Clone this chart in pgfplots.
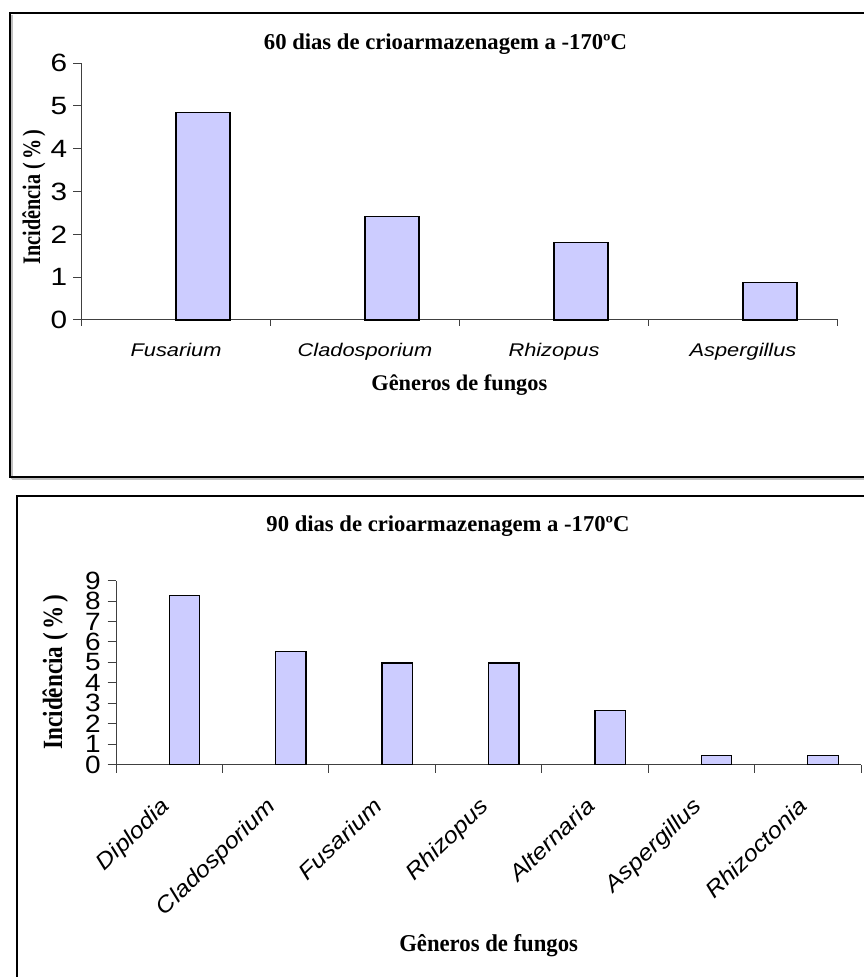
\documentclass[border=0pt]{standalone}
\usepackage{pgfplots}
\usepackage{pgfplotstable}
\pgfplotsset{compat=1.18}
\usepackage{fontspec}
\setmainfont{Liberation Serif}
\newfontfamily\arialA[FakeStretch=1.19]{Liberation Sans}
\newfontfamily\arialB[FakeStretch=1.12]{Liberation Sans}
\newfontfamily\timesC[FakeStretch=0.94]{Liberation Serif}
\definecolor{barfill}{HTML}{CCCCFF}
\definecolor{axgray}{HTML}{404040}

\pgfplotstableread{
x y
0 4.85
1 2.42
2 1.81
3 0.88
}\dataA
\pgfplotstableread{
x y
0 8.27
1 5.52
2 4.98
3 4.98
4 2.66
5 0.45
6 0.45
}\dataB

\begin{document}
\begin{tikzpicture}
\clip (0,0) rectangle (518.4pt,586.2pt);
\fill[white] (0,0) rectangle (518.4pt,586.2pt);
% frame 1
\draw[gray!50, line width=1.2pt] (7pt,299pt) -- (530pt,299pt);
\draw[gray!50, line width=1.2pt] (7pt,299pt) -- (7pt,577pt);
\draw[black, line width=1.2pt] (6pt,300pt) rectangle (530pt,578.4pt);
% frame 2
\draw[black, line width=0.9pt] (10.2pt,-10pt) rectangle (530pt,288.6pt);

\begin{axis}[
  at={(48.9pt,394.2pt)}, anchor=south west,
  width=453.6pt, height=154.2pt, scale only axis,
  xmin=-0.5, xmax=3.5, ymin=0, ymax=6,
  axis lines*=left, axis line style={axgray, line width=0.6pt},
  ytick={0,...,6},
  xtick={0,1,2,3},
  xticklabels={Fusarium,Cladosporium,Rhizopus,Aspergillus},
  minor xtick={-0.5,0.5,1.5,2.5,3.5},
  tick align=outside,
  major tick length=5pt, minor tick length=3.5pt,
  major x tick style={draw=none},
  minor x tick style={axgray, line width=0.6pt},
  ytick style={axgray, line width=0.6pt},
  xticklabel style={font=\arialA\itshape\fontsize{11}{12}\selectfont, anchor=base, yshift=-17pt},
  yticklabel style={font=\arialA\fontsize{15}{15}\selectfont},
  /pgf/number format/assume math mode=true,
  clip=false,
]
\addplot[ybar, bar width=0.2857, bar shift=0.1429, fill=barfill, draw=black, line width=0.8pt] table {\dataA};
\end{axis}

\node[anchor=base, font=\bfseries\fontsize{13.6}{14}\selectfont] at (267.3pt,556.2pt) {60 dias de crioarmazenagem a -170ºC};
\node[anchor=base, font=\bfseries\fontsize{13.4}{14}\selectfont] at (275.6pt,351.8pt) {Gêneros de fungos};
\node[anchor=base, rotate=90, font=\bfseries\fontsize{12.1}{14}\selectfont] at (24pt,468.0pt) {\scalebox{1}[1.25]{Incidência (\,\%\,)}};

\begin{axis}[
  at={(69.6pt,127.4pt)}, anchor=south west,
  width=447pt, height=110.4pt, scale only axis,
  xmin=-0.5, xmax=6.5, ymin=0, ymax=9,
  axis lines*=left, axis line style={axgray, line width=0.6pt},
  ytick={0,...,9},
  xtick={0,...,6},
  xticklabels={Diplodia,Cladosporium,Fusarium,Rhizopus,Alternaria,Aspergillus,Rhizoctonia},
  minor xtick={-0.5,0.5,...,6.5},
  tick align=outside,
  major tick length=5pt, minor tick length=5pt,
  major x tick style={draw=none},
  minor x tick style={axgray, line width=0.6pt},
  ytick style={axgray, line width=0.6pt},
  xticklabel style={font=\arialB\itshape\fontsize{13.5}{14}\selectfont, yshift=-9pt, xshift=-6pt, rotate=44, anchor=north east},
  yticklabel style={font=\arialB\fontsize{15}{15}\selectfont, inner sep=1pt, xshift=-3pt},
  /pgf/number format/assume math mode=true,
  clip=false,
]
\addplot[ybar, bar width=0.2857, bar shift=0.1429, fill=barfill, draw=black, line width=0.8pt] table {\dataB};
\end{axis}

\node[anchor=base, font=\bfseries\fontsize{13.6}{14}\selectfont] at (268.8pt,267.2pt) {90 dias de crioarmazenagem a -170ºC};
\node[anchor=base, font=\timesC\bfseries\fontsize{14.5}{15}\selectfont] at (293.2pt,15.2pt) {Gêneros de fungos};
\node[anchor=base, rotate=90, font=\bfseries\fontsize{13.9}{15}\selectfont] at (37.2pt,183.0pt) {\scalebox{1}[1.2]{Incidência (\,\%\,)}};
\end{tikzpicture}
\end{document}
